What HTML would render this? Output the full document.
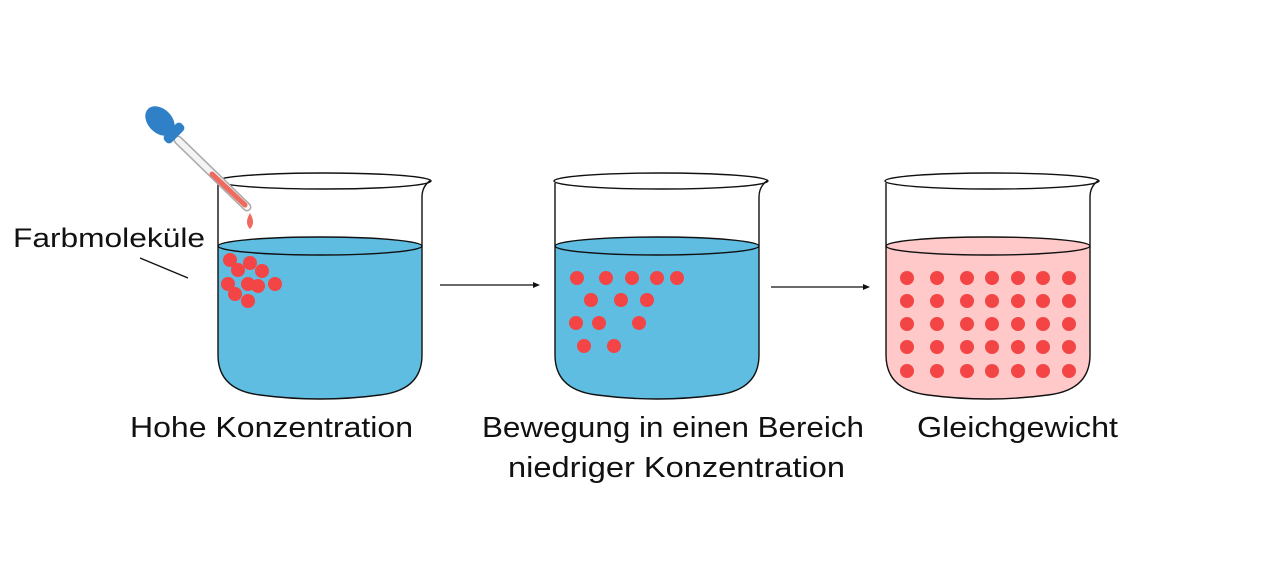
<!DOCTYPE html>
<html><head><meta charset="utf-8"><style>
html,body{margin:0;padding:0;background:#fff;}
svg{display:block}
text{font-family:"Liberation Sans",sans-serif;fill:#111}
</style></head><body>
<svg width="1280" height="572" viewBox="0 0 1280 572">
<defs>
<g id="outline">
<path d="M218,183 L218,355 Q218,390 260,395 Q320,403 380,395 Q422,390 422,355 L422,197 Q422,186 431,180" fill="none" stroke="#111" stroke-width="1.4"/>
<ellipse cx="324" cy="181" rx="107" ry="8" fill="none" stroke="#111" stroke-width="1.4"/>
</g>
<path id="liq" d="M218,246 L218,355 Q218,390 260,395 Q320,403 380,395 Q422,390 422,355 L422,246 Z"/>
</defs>

<use href="#liq" fill="#5fbde2"/>
<ellipse cx="320" cy="246" rx="102" ry="9" fill="#5fbde2" stroke="#111" stroke-width="1.4"/>
<use href="#outline"/>
<g fill="#f34545">
<circle cx="230" cy="260" r="7"/><circle cx="250" cy="263" r="7"/><circle cx="238" cy="270" r="7"/><circle cx="262" cy="271" r="7"/>
<circle cx="228" cy="284" r="7"/><circle cx="248" cy="284" r="7"/><circle cx="258" cy="286" r="7"/><circle cx="275" cy="284" r="7"/>
<circle cx="235" cy="294" r="7"/><circle cx="248" cy="301" r="7"/>
</g>

<g>
<line x1="178" y1="140" x2="247" y2="207" stroke="#aaa" stroke-width="9" stroke-linecap="round"/>
<line x1="178" y1="140" x2="247" y2="207" stroke="#f4f4f4" stroke-width="6" stroke-linecap="round"/>
<line x1="212" y1="174" x2="245" y2="205" stroke="#ef6a5f" stroke-width="5" stroke-linecap="round"/>
<ellipse cx="160" cy="121" rx="17" ry="12" transform="rotate(45 160 121)" fill="#2f80c6"/>
<rect x="162" y="128" width="24" height="10" rx="4" transform="rotate(-45 174 133)" fill="#2f80c6"/>
<path d="M250,213 Q256,223 250,229 Q244,223 250,213Z" fill="#ef6a5f"/>
</g>

<g transform="translate(337,0)">
<use href="#liq" fill="#5fbde2"/>
<ellipse cx="320" cy="246" rx="102" ry="9" fill="#5fbde2" stroke="#111" stroke-width="1.4"/>
<use href="#outline"/>
</g>
<g fill="#f34545">
<circle cx="577" cy="278" r="7"/><circle cx="606" cy="278" r="7"/><circle cx="632" cy="278" r="7"/><circle cx="657" cy="278" r="7"/><circle cx="677" cy="278" r="7"/>
<circle cx="591" cy="300" r="7"/><circle cx="621" cy="300" r="7"/><circle cx="647" cy="300" r="7"/>
<circle cx="576" cy="323" r="7"/><circle cx="599" cy="323" r="7"/><circle cx="639" cy="323" r="7"/>
<circle cx="584" cy="346" r="7"/><circle cx="614" cy="346" r="7"/>
</g>

<g transform="translate(668,0)">
<use href="#liq" fill="#ffc9c9"/>
<ellipse cx="320" cy="246" rx="102" ry="9" fill="#ffc9c9" stroke="#111" stroke-width="1.4"/>
<use href="#outline"/>
</g>
<g fill="#f34545">
<g id="row"><circle cx="907" cy="278" r="7"/><circle cx="937" cy="278" r="7"/><circle cx="967" cy="278" r="7"/><circle cx="992" cy="278" r="7"/><circle cx="1018" cy="278" r="7"/><circle cx="1043" cy="278" r="7"/><circle cx="1069" cy="278" r="7"/></g>
<use href="#row" y="23"/><use href="#row" y="46"/><use href="#row" y="69"/><use href="#row" y="93"/>
</g>

<line x1="440" y1="285" x2="535" y2="285" stroke="#111" stroke-width="1.3"/>
<path d="M540,285 L533,282 L533,288 Z" fill="#111"/>
<line x1="771" y1="287" x2="865" y2="287" stroke="#111" stroke-width="1.3"/>
<path d="M870,287 L863,284 L863,290 Z" fill="#111"/>

<line x1="140" y1="258" x2="188" y2="278" stroke="#111" stroke-width="1.4"/>
<text x="13" y="247" font-size="27" textLength="192" lengthAdjust="spacingAndGlyphs">Farbmoleküle</text>

<text x="130" y="437" font-size="29" textLength="283" lengthAdjust="spacingAndGlyphs">Hohe Konzentration</text>
<text x="482" y="437" font-size="29" textLength="382" lengthAdjust="spacingAndGlyphs">Bewegung in einen Bereich</text>
<text x="508" y="477" font-size="29" textLength="337" lengthAdjust="spacingAndGlyphs">niedriger Konzentration</text>
<text x="917" y="437" font-size="29" textLength="201" lengthAdjust="spacingAndGlyphs">Gleichgewicht</text>
</svg>
</body></html>
